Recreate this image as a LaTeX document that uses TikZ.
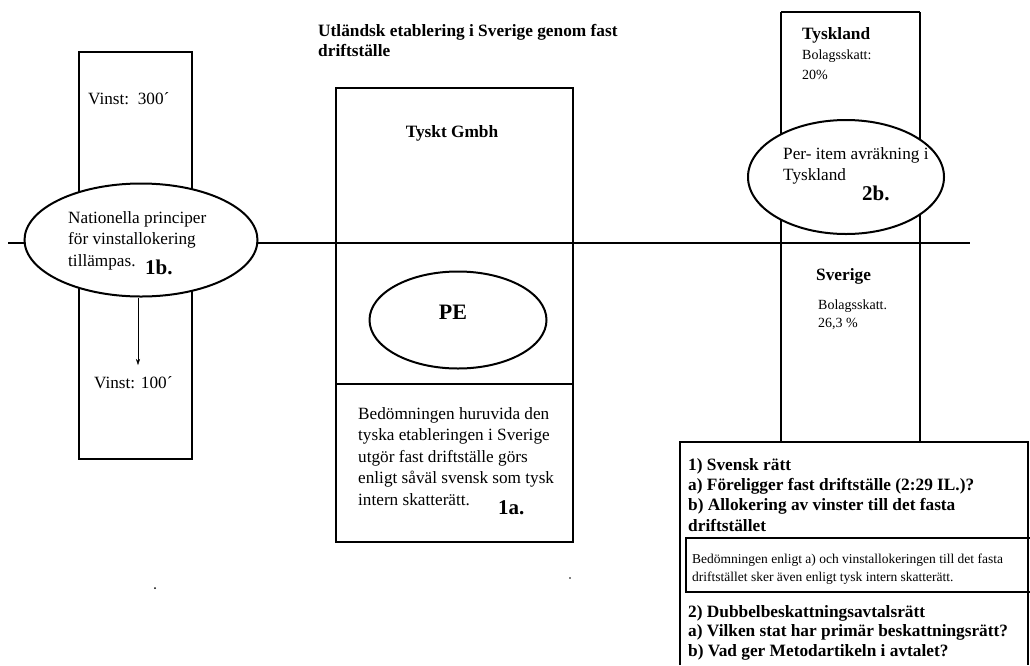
\documentclass[tikz,border=0pt]{standalone}
\usepackage{fontspec}
\setmainfont{Liberation Serif}
\usetikzlibrary{positioning,arrows.meta,shapes.geometric}

\begin{document}
\begin{tikzpicture}[
  x=1pt, y=-1pt,
  every node/.style={inner sep=0pt, align=left},
  frame/.style={draw, line width=2.2pt},
  oval/.style={draw, ellipse, fill=white, line width=2pt},
  body/.style={font=\fontsize{17.2}{21.5}\selectfont},
  head/.style={font=\fontsize{17.3}{20.3}\selectfont\bfseries},
  small/.style={font=\fontsize{14}{20}\selectfont},
  tag/.style={font=\fontsize{21}{24}\selectfont\bfseries},
  >={Stealth[length=6pt,width=4pt]}
]
\useasboundingbox (0,0) rectangle (1030,665);

% columns and the border line
\draw[frame] (79,52) rectangle (192,459);
\draw[frame] (336,88) rectangle (573,542);
\draw[line width=1.5pt] (336,384) -- (573,384);
\draw[frame] (781,12) -- (781,442) (920,12) -- (920,442) (781,12) -- (920,12);
\coordinate (borderL) at (8,243);
\coordinate (borderR) at (970,243);
\draw[line width=2.8pt] (borderL) -- (borderR);

% ovals
\node[oval, minimum width=233pt, minimum height=113pt] (nat) at (141,240) {};
\node[oval, minimum width=177pt, minimum height=97pt] (pe) at (458,320) {};
\node[oval, minimum width=196pt, minimum height=114pt] (per) at (846,177) {};

% left column
\node[body, anchor=west] (vin300) at (88,99) {Vinst:\ \ 300´};
\node[body, anchor=north west] (natTxt) at (68,211) {Nationella principer\\för vinstallokering\\tillämpas.};
\node[tag, anchor=west] (oneB) at (145,267) {1b.};
\node[body, anchor=west] (vin100) at (94,383) {Vinst: 100´};
\coordinate (arrEnd) at (138,365);
\draw[->] (nat.south -| arrEnd) -- (arrEnd);

% middle column
\node[head, font=\fontsize{17.3}{20}\selectfont\bfseries, anchor=north west] (title) at (318,24) {Utländsk etablering i Sverige genom fast\\driftställe};
\node[head, anchor=center] (gmbh) at (452,133) {Tyskt Gmbh};
\node[font=\fontsize{22}{26}\selectfont\bfseries] (peTxt) at (453,312) {PE};
\node[body, anchor=north west] (bedTxt) at (358,407) {Bedömningen huruvida den\\tyska etableringen i Sverige\\utgör fast driftställe görs\\enligt såväl svensk som tysk\\intern skatterätt.};
\node[tag, anchor=west] (oneA) at (498,508) {1a.};

% right column
\node[head, anchor=west] (tysk) at (802,35) {Tyskland};
\node[small, anchor=north west] (skattDE) at (802,50) {Bolagsskatt:\\20\%};
\node[body, anchor=north west] (perTxt) at (783,147) {Per- item avräkning i\\Tyskland};
\node[tag, anchor=west] (twoB) at (862,193) {2b.};
\node[head, anchor=west] (sve) at (816,276) {Sverige};
\node[small, font=\fontsize{14}{18}\selectfont, anchor=north west] (skattSE) at (818,300) {Bolagsskatt.\\26,3 \%};

% question box
\draw[frame] (680,665) -- (680,442) -- (1028,442) -- (1028,665);
\draw[line width=1.8pt] (1030,538) -- (686,538) -- (686,592) -- (1030,592);
\node[head, anchor=north west] (svRatt) at (688,458) {1) Svensk rätt\\a) Föreligger fast driftställe (2:29 IL.)?\\b) Allokering av vinster till det fasta\\driftstället};
\node[small, font=\fontsize{13.5}{17.5}\selectfont, anchor=north west] (bedTysk) at (692,554) {Bedömningen enligt a) och vinstallokeringen till det fasta\\driftstället sker även enligt tysk intern skatterätt.};
\node[head, font=\fontsize{17.3}{19.5}\selectfont\bfseries, anchor=north west] (dbaRatt) at (688,605) {2) Dubbelbeskattningsavtalsrätt\\a) Vilken stat har primär beskattningsrätt?\\b) Vad ger Metodartikeln i avtalet?};

% stray dots
\fill (155,588) circle (1);
\fill (570,578) circle (0.8);
\end{tikzpicture}
\end{document}
